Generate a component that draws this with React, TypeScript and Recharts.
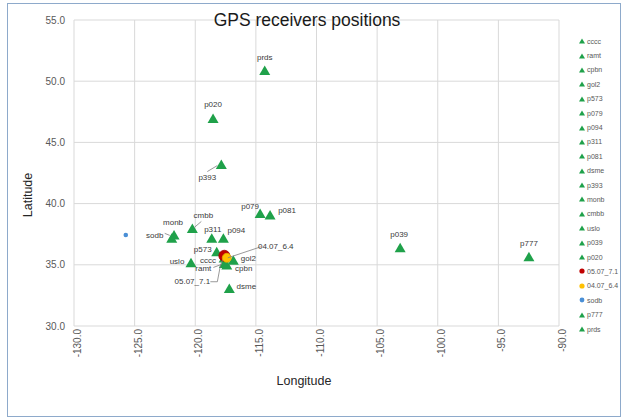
import { ScatterChart, Scatter, XAxis, YAxis, CartesianGrid } from 'recharts';

// station positions (lon, lat)
const STATION_NAMES = ['cccc', 'ramt', 'cpbn', 'gol2', 'p573', 'p079', 'p094', 'p311', 'p081', 'dsme', 'p393', 'monb', 'cmbb', 'uslo', 'p039', 'p020', 'p777', 'prds', 'sodb'];
const STATION_LON = [-117.62, -117.6, -117.4, -116.86, -118.23, -114.65, -117.68, -118.64, -113.83, -117.19, -117.85, -121.75, -120.24, -120.35, -103.1, -118.53, -92.48, -114.27, -121.94];
const STATION_LAT = [35.55, 35.11, 34.98, 35.38, 36.06, 39.2, 37.16, 37.16, 39.06, 33.07, 43.19, 37.43, 37.97, 35.16, 36.39, 46.95, 35.65, 50.87, 37.16];

const QUAKE_NAMES = ['05.07_7.1', '04.07_6.4'];
const QUAKE_LON = [-117.6, -117.4];
const QUAKE_LAT = [35.74, 35.57];

const SODB_LON = [-125.73];
const SODB_LAT = [37.43];

const LON_TICKS = [-130, -125, -120, -115, -110, -105, -100, -95, -90];
const LAT_TICKS = [30, 35, 40, 45, 50, 55];

const LEGEND_NAMES = ['cccc', 'ramt', 'cpbn', 'gol2', 'p573', 'p079', 'p094', 'p311', 'p081', 'dsme', 'p393', 'monb', 'cmbb', 'uslo', 'p039', 'p020', '05.07_7.1', '04.07_6.4', 'sodb', 'p777', 'prds'];

const GREEN = '#1fa14a';
const RED = '#c00000';
const ORANGE = '#ffc000';
const BLUE = '#4a8fd6';
const FONT = '"Liberation Sans", Arial, sans-serif';

// label placement relative to the marker: [dx, dy] of the text centre, optional leader line
const LABEL_POS: Record<string, { dx: number; dy: number; line?: number[][] }> = {
    cccc: { dx: -16, dy: 2 },
    ramt: { dx: -21, dy: 5, line: [[-11, 4], [-3, 1]] },
    cpbn: { dx: 17, dy: 3 },
    gol2: { dx: 15, dy: -2 },
    p573: { dx: -14, dy: -2 },
    p079: { dx: -10, dy: -7 },
    p094: { dx: 13, dy: -8 },
    p311: { dx: 1, dy: -9 },
    p081: { dx: 17, dy: -5 },
    dsme: { dx: 17, dy: -2 },
    p393: { dx: -14, dy: 13, line: [[-14, 7], [-4, 1]] },
    monb: { dx: -1, dy: -13 },
    cmbb: { dx: 11, dy: -13, line: [[2, -1], [9, -7]] },
    uslo: { dx: -14, dy: -1 },
    p039: { dx: -1, dy: -13 },
    p020: { dx: 0, dy: -14 },
    p777: { dx: 0, dy: -13 },
    prds: { dx: 0, dy: -13 },
    sodb: { dx: -17, dy: -3, line: [[-7, -5], [-2, -3]] },
    '05.07_7.1': { dx: -32, dy: 26, line: [[-14, 26], [-7, 26], [-4, 10], [-1, 2]] },
    '04.07_6.4': { dx: 49, dy: -11, line: [[34, -11], [1, 0]] },
};

const stations = STATION_NAMES.map((name, i) => ({ name, lon: STATION_LON[i], lat: STATION_LAT[i] }));
const quakes = QUAKE_NAMES.map((name, i) => ({ name, lon: QUAKE_LON[i], lat: QUAKE_LAT[i] }));
const sodb = SODB_LON.map((lon, i) => ({ name: '', lon, lat: SODB_LAT[i] }));

function PointLabel({ cx, cy, name }: { cx: number; cy: number; name: string }) {
    const pos = LABEL_POS[name];
    if (!pos) return null;
    return (
        <g>
            {pos.line && (
                <polyline
                    points={pos.line.map(([x, y]) => `${cx + x},${cy + y}`).join(' ')}
                    fill="none"
                    stroke="#7f7f7f"
                    strokeWidth={0.8}
                />
            )}
            <text x={cx + pos.dx} y={cy + pos.dy} textAnchor="middle" dominantBaseline="central" fontSize={8} fontFamily={FONT} fill="#3a3a3a">
                {name}
            </text>
        </g>
    );
}

const Triangle = (props: any) => {
    const { cx, cy, payload } = props;
    return (
        <g>
            <polygon points={`${cx},${cy - 5} ${cx + 5.5},${cy + 4.5} ${cx - 5.5},${cy + 4.5}`} fill={GREEN} />
            <PointLabel cx={cx} cy={cy} name={payload.name} />
        </g>
    );
};

const QuakeDot = (props: any) => {
    const { cx, cy, payload } = props;
    const red = payload.name === QUAKE_NAMES[0];
    return (
        <g>
            <circle cx={cx} cy={cy} r={red ? 5.5 : 4.5} fill={red ? RED : ORANGE} stroke={red ? '#a00000' : '#e0a800'} strokeWidth={0.8} />
            <PointLabel cx={cx} cy={cy} name={payload.name} />
        </g>
    );
};

const BlueDot = (props: any) => <circle cx={props.cx} cy={props.cy} r={2.3} fill={BLUE} />;

function LegendMarker({ name }: { name: string }) {
    if (name === '05.07_7.1') return <svg width={6} height={6}><circle cx={3} cy={3} r={2.6} fill={RED} /></svg>;
    if (name === '04.07_6.4') return <svg width={6} height={6}><circle cx={3} cy={3} r={2.6} fill={ORANGE} /></svg>;
    if (name === 'sodb') return <svg width={6} height={6}><circle cx={3} cy={3} r={2.4} fill={BLUE} /></svg>;
    return <svg width={6} height={6}><polygon points="3,0.5 6,5.5 0,5.5" fill={GREEN} /></svg>;
}

export default function App() {
    return (
        <div style={{ position: 'absolute', left: 0, top: 0, width: 627, height: 420, background: '#fff', fontFamily: FONT }}>
            <div style={{ position: 'absolute', left: 7, top: 3, width: 612, height: 412, border: '1px solid #8eaacb' }} />
            <ScatterChart width={627} height={420} margin={{ top: 20, right: 68, bottom: 54, left: 24 }}>
                <CartesianGrid stroke="#d9d9d9" strokeWidth={1} />
                <XAxis
                    type="number"
                    dataKey="lon"
                    domain={[-130, -90]}
                    ticks={LON_TICKS}
                    allowDataOverflow
                    height={40}
                    axisLine={false}
                    tickLine={false}
                    tickSize={0}
                    tickMargin={6}
                    angle={-90}
                    textAnchor="end"
                    interval={0}
                    tickFormatter={(v) => Number(v).toFixed(1)}
                    tick={{ fontSize: 10, fill: '#595959', fontFamily: FONT, dy: -3 }}
                />
                <YAxis
                    type="number"
                    dataKey="lat"
                    domain={[30, 55]}
                    ticks={LAT_TICKS}
                    allowDataOverflow
                    width={50}
                    axisLine={false}
                    tickLine={false}
                    tickSize={0}
                    tickMargin={9}
                    interval={0}
                    tickFormatter={(v) => Number(v).toFixed(1)}
                    tick={{ fontSize: 10, fill: '#595959', fontFamily: FONT }}
                />
                <Scatter data={stations} shape={Triangle} isAnimationActive={false} />
                <Scatter data={quakes} shape={QuakeDot} isAnimationActive={false} />
                <Scatter data={sodb} shape={BlueDot} isAnimationActive={false} />
            </ScatterChart>
            <div style={{ position: 'absolute', left: 307, top: 10, transform: 'translateX(-50%)', fontSize: 17.5, color: '#1a1a1a', whiteSpace: 'nowrap', pointerEvents: 'none' }}>
                GPS receivers positions
            </div>
            <div style={{ position: 'absolute', left: 28, top: 195, transform: 'translate(-50%, -50%) rotate(-90deg)', fontSize: 12.5, color: '#262626', whiteSpace: 'nowrap' }}>
                Latitude
            </div>
            <div style={{ position: 'absolute', left: 304, top: 381, transform: 'translate(-50%, -50%)', fontSize: 12.5, color: '#262626', whiteSpace: 'nowrap' }}>
                Longitude
            </div>
            <div style={{ position: 'absolute', left: 579, top: 34 }}>
                {LEGEND_NAMES.map((name) => (
                    <div key={name} style={{ height: 14.4, display: 'flex', alignItems: 'center', gap: 2, fontSize: 7, color: '#595959' }}>
                        <LegendMarker name={name} />
                        <span>{name}</span>
                    </div>
                ))}
            </div>
        </div>
    );
}
